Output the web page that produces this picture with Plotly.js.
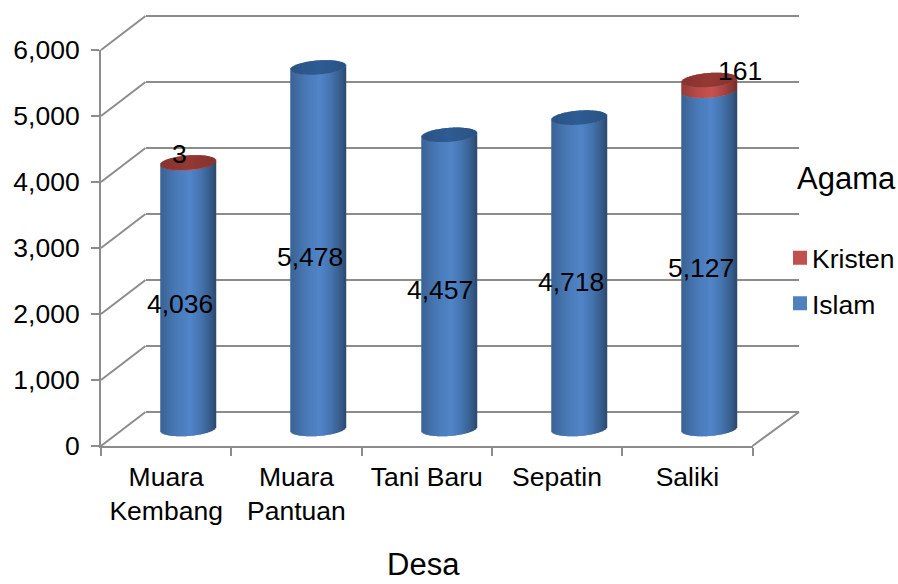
<!DOCTYPE html>
<html><head><meta charset="utf-8">
<script src="https://cdn.plot.ly/plotly-3.0.1.min.js"></script>
<style>html,body{margin:0;padding:0;background:#fff}#chart{width:898px;height:584px}</style>
</head><body><div id="chart"></div>
<script>
var categories = ['Muara<br>Kembang', 'Muara<br>Pantuan', 'Tani Baru', 'Sepatin', 'Saliki'];
var islam = [4036, 5478, 4457, 4718, 5127];
var kristen = [3, 0, 0, 0, 161];
var valueTicks = [0, 1000, 2000, 3000, 4000, 5000, 6000];
var seriesNames = ['Kristen', 'Islam'];
var legendTitle = 'Agama';
var xTitle = 'Desa';

var W = 898, H = 584, FONT = '"Liberation Sans", Arial, sans-serif', GRID = '#8c8c8c', FS = 26.5;
var frontL = 101, frontR = 752.5, frontB = 446, frontT = 50;
var pxPerUnit = (frontB - frontT) / 6000, pxPerCat = (frontR - frontL) / 5;
function fx(a, b) { return [a / W, b / W]; }
function fy(bottom, top) { return [(H - bottom) / H, (H - top) / H]; }
function mix(c, f) { return 'rgb(' + c.map(function (v) { return Math.round(v * f); }).join(',') + ')'; }
var shadeStops = [[-1, .74], [-.4, .92], [.1, 1], [.5, .86], [.85, .68], [1, .56]];
function shade(t) {
  for (var i = 1; i < shadeStops.length; i++) {
    var a = shadeStops[i - 1], b = shadeStops[i];
    if (t <= b[0]) return a[1] + (b[1] - a[1]) * (t - a[0]) / (b[0] - a[0]);
  }
  return 1;
}
var BLUE = [80, 133, 200], RED = [200, 82, 79];
var capW = 55, capB = 7, capTilt = 2;

var islamBars = { x: [], y: [], base: [], offset: [], width: [], color: [] };
var kristenBars = { x: [], y: [], base: [], offset: [], width: [], color: [] };
var capBars = { x: [], y: [], base: [], offset: [], width: [], color: [] };
function push(o, cat, h, b, off, w, col) {
  o.x.push(cat); o.y.push(h); o.base.push(b); o.offset.push(off); o.width.push(w); o.color.push(col);
}
categories.forEach(function (cat, c) {
  for (var i = 0; i < capW; i++) {
    var t = (i + .5 - capW / 2) / (capW / 2);
    var s = Math.sqrt(1 - t * t);
    var front = (capTilt * t - capB * s) / pxPerUnit;
    var span = 2 * capB * s / pxPerUnit;
    var off = (i - capW / 2) / pxPerCat, w = 1 / pxPerCat;
    var f = shade(t);
    push(islamBars, cat, islam[c], front, off, w, mix(BLUE, f));
    if (kristen[c] > 0) push(kristenBars, cat, kristen[c], islam[c] + front, off, w, mix(RED, f));
    var capCol = kristen[c] > 0 ? [149, 57, 53] : [47, 92, 147];
    push(capBars, cat, span, islam[c] + kristen[c] + front, off, w, mix(capCol, 1 - .1 * Math.abs(t)));
  }
});
function barTrace(o) {
  return { type: 'bar', x: o.x, y: o.y, base: o.base, offset: o.offset, width: o.width,
    marker: { color: o.color, line: { width: 0 } }, xaxis: 'x3', yaxis: 'y3', showlegend: false, hoverinfo: 'skip' };
}
var traces = [
  { type: 'scatter', mode: 'none', x: [0, 1], y: [0, 6000], xaxis: 'x', yaxis: 'y', showlegend: false, hoverinfo: 'skip' },
  { type: 'scatter', mode: 'none', x: categories, y: islam, xaxis: 'x2', yaxis: 'y2', showlegend: false, hoverinfo: 'skip' },
  barTrace(islamBars), barTrace(kristenBars), barTrace(capBars),
  { type: 'bar', name: seriesNames[0], x: [null], y: [null], marker: { color: '#C0504D', line: { color: '#C0504D', width: 2 } }, xaxis: 'x3', yaxis: 'y3', legendgroup: 'a' },
  { type: 'bar', name: seriesNames[1], x: [null], y: [null], marker: { color: '#4F81BD', line: { color: '#4F81BD', width: 2 } }, xaxis: 'x3', yaxis: 'y3', legendgroup: 'b' }
];

var shapes = [];
var depthX = 44.5, depthY = 34;
function paperY(v) { return (H - (frontB - v * pxPerUnit)) / H; }
valueTicks.forEach(function (v) {
  shapes.push({ type: 'line', xref: 'paper', yref: 'paper', x0: frontL / W, x1: (frontL + depthX) / W, y0: paperY(v), y1: paperY(v) + depthY / H,
    line: { color: GRID, width: 2 }, layer: 'below' });
});
shapes.push({ type: 'line', xref: 'paper', yref: 'paper', x0: frontR / W, x1: 799 / W, y0: paperY(0), y1: paperY(0) + depthY / H,
  line: { color: GRID, width: 2 }, layer: 'below' });

var annotations = [];
function label(i, yv, txt, dx, dy) {
  annotations.push({ xref: 'x2', yref: 'y2', x: i, y: yv, text: txt, showarrow: false, xshift: dx, yshift: dy,
    font: { family: FONT, size: FS, color: '#000' } });
}
var fmt = function (v) { return v.toLocaleString('en-US'); };
var islamDx = [14, 14, 13, 14, 14];
islam.forEach(function (v, i) { label(i, v / 2, fmt(v), islamDx[i], 8.5); });
label(0, islam[0] + kristen[0] / 2, fmt(kristen[0]), 13, 26);
label(4, islam[4] + kristen[4] / 2, fmt(kristen[4]), 53, 31);
function pageText(px, py, txt) {
  annotations.push({ xref: 'paper', yref: 'paper', x: px / W, y: (H - py) / H, xanchor: 'center', yanchor: 'middle', text: txt, showarrow: false,
    font: { family: FONT, size: 31, color: '#000' } });
}
pageText(846, 178, legendTitle);
pageText(423, 564, xTitle);

var backPad = 150;
var layout = {
  width: W, height: H, autosize: false, margin: { l: 0, r: 0, t: 0, b: 0, autoexpand: false },
  paper_bgcolor: '#fff', plot_bgcolor: 'rgba(0,0,0,0)', barmode: 'overlay', shapes: shapes, annotations: annotations,
  font: { family: FONT, size: FS, color: '#000' },
  xaxis: { domain: fx(frontL + depthX, 799), range: [0, 1], visible: false, anchor: 'y' },
  yaxis: { domain: fy(frontB - depthY + backPad * pxPerUnit, frontT - depthY - backPad * pxPerUnit), range: [-backPad, 6000 + backPad], tickvals: valueTicks, showticklabels: false, ticks: '',
    showgrid: true, gridcolor: GRID, gridwidth: 2, zeroline: false, showline: false, anchor: 'x' },
  xaxis2: { domain: fx(frontL, frontR), range: [-.5, 4.5], type: 'category', categoryorder: 'array', categoryarray: categories, tickson: 'boundaries',
    ticks: 'outside', ticklen: 8, tickwidth: 2, tickcolor: GRID, showline: true, linecolor: GRID, linewidth: 2, showgrid: false, zeroline: false,
    tickangle: 0, tickfont: { family: FONT, size: FS, color: '#000' }, anchor: 'y2', ticklabelstandoff: 6 },
  yaxis2: { domain: fy(frontB, frontT), range: [0, 6000], tickvals: valueTicks, tickformat: ',d', ticks: 'outside', ticklen: 8, tickwidth: 2, tickcolor: GRID,
    showline: true, linecolor: GRID, linewidth: 2, showgrid: false, zeroline: false, tickfont: { family: FONT, size: FS, color: '#000' }, anchor: 'x2', ticklabelstandoff: 6 },
  xaxis3: { domain: fx(frontL + 22.25, frontR + 22.25), range: [-.5, 4.5], type: 'category', categoryorder: 'array', categoryarray: categories, visible: false, anchor: 'y3' },
  yaxis3: { domain: fy(frontB - 17 + 300 * pxPerUnit, frontB - 17 - 6300 * pxPerUnit), range: [-300, 6300], visible: false, anchor: 'x3' },
  showlegend: true,
  legend: { x: 772 / W, xanchor: 'left', y: (H - 234) / H, yanchor: 'top', bgcolor: 'rgba(0,0,0,0)', borderwidth: 0, traceorder: 'grouped', tracegroupgap: 8,
    font: { family: FONT, size: FS, color: '#000' }, itemclick: false, itemdoubleclick: false }
};
function nudgeSwatches() {
  document.querySelectorAll('.legend .legendpoints').forEach(function (g) { g.setAttribute('transform', 'translate(8,0)'); });
}
Plotly.newPlot('chart', traces, layout, { displayModeBar: false, responsive: false }).then(function (gd) {
  nudgeSwatches();
  gd.on('plotly_afterplot', nudgeSwatches);
});
</script></body></html>
